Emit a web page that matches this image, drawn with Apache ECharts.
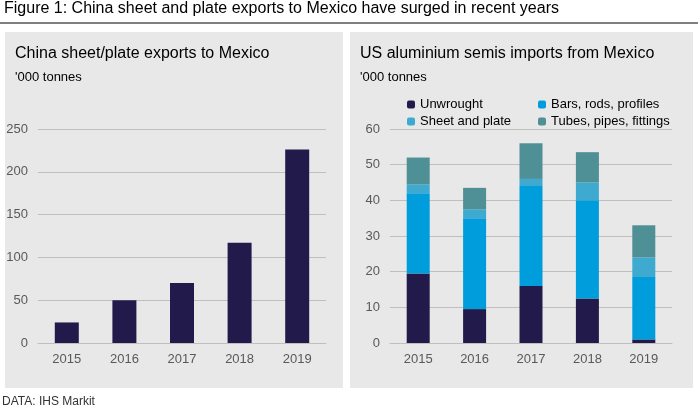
<!DOCTYPE html>
<html lang="en">
<head>
<meta charset="utf-8">
<title>China sheet and plate exports to Mexico</title>
<script src="https://cdn.jsdelivr.net/npm/echarts@6/dist/echarts.min.js"></script>
<style>
  body { margin: 0; background: #fff; }
  #main { width: 698px; height: 409px; }
</style>
</head>
<body>
<div id="main"></div>
<script type="text/javascript">
  // years shared by both panels
  let years = ['2015', '2016', '2017', '2018', '2019'];

  // left panel: China sheet/plate exports, '000 tonnes
  let chinaExports = [24, 50, 70, 117, 226];

  // right panel: US semis imports from Mexico, '000 tonnes
  let unwrought = [19.5, 9.5, 16, 12.5, 1];
  let barsRods = [22.5, 25.5, 28, 27.5, 17.5];
  let sheetPlate = [2.5, 2.5, 2, 5, 5.5];
  let tubesPipes = [7.5, 6, 10, 8.5, 9];

  let font = 'Arial, "Liberation Sans", sans-serif';
  let axisText = { color: '#595959', fontSize: 13, fontFamily: font, margin: 10 };
  let legendText = { color: '#000', fontSize: 13, fontFamily: font };

  let chart = echarts.init(document.getElementById('main'));

  function stackSeries(name, data, color) {
    return {
      name: name, type: 'bar', stack: 'us', data: data,
      xAxisIndex: 1, yAxisIndex: 1, barWidth: 23,
      itemStyle: { color: color }
    };
  }

  let option = {
    animation: false,
    graphic: [
      { type: 'text', left: 4, top: 1, style: { text: 'Figure 1: China sheet and plate exports to Mexico have surged in recent years', fontSize: 16, fill: '#000', fontFamily: font } },
      { type: 'line', shape: { x1: 0, y1: 23, x2: 698, y2: 23 }, style: { stroke: '#000', lineWidth: 1 } },
      { type: 'rect', z: -10, shape: { x: 5, y: 32, width: 338, height: 356 }, style: { fill: '#e8e8e8' } },
      { type: 'rect', z: -10, shape: { x: 350, y: 32, width: 343, height: 356 }, style: { fill: '#e8e8e8' } },
      { type: 'text', left: 15, top: 46, style: { text: 'China sheet/plate exports to Mexico', fontSize: 16, fill: '#000', fontFamily: font } },
      { type: 'text', left: 15, top: 71, style: { text: "'000 tonnes", fontSize: 13, fill: '#000', fontFamily: font } },
      { type: 'text', left: 360, top: 46, style: { text: 'US aluminium semis imports from Mexico', fontSize: 16, fill: '#000', fontFamily: font } },
      { type: 'text', left: 360, top: 71, style: { text: "'000 tonnes", fontSize: 13, fill: '#000', fontFamily: font } },
      { type: 'text', left: 2, top: 396, style: { text: 'DATA: IHS Markit', fontSize: 12, fill: '#333', fontFamily: font } }
    ],
    legend: [
      { left: 402, top: 93, orient: 'vertical', itemWidth: 8, itemHeight: 8, itemGap: 4, textStyle: legendText,
        data: ['Unwrought', 'Sheet and plate'] },
      { left: 533, top: 93, orient: 'vertical', itemWidth: 8, itemHeight: 8, itemGap: 4, textStyle: legendText,
        data: ['Bars, rods, profiles', 'Tubes, pipes, fittings'] }
    ],
    grid: [
      { left: 38, right: 372, top: 129, bottom: 66 },
      { left: 390, right: 26, top: 129, bottom: 66 }
    ],
    xAxis: [
      { type: 'category', gridIndex: 0, data: years, axisTick: { show: false }, axisLine: { lineStyle: { color: '#bfbfbf' } }, axisLabel: axisText },
      { type: 'category', gridIndex: 1, data: years, axisTick: { show: false }, axisLine: { lineStyle: { color: '#bfbfbf' } }, axisLabel: axisText }
    ],
    yAxis: [
      { type: 'value', gridIndex: 0, min: 0, max: 250, interval: 50, axisLabel: axisText, splitLine: { lineStyle: { color: '#bfbfbf' } } },
      { type: 'value', gridIndex: 1, min: 0, max: 60, interval: 10, axisLabel: axisText, splitLine: { lineStyle: { color: '#bfbfbf' } } }
    ],
    series: [
      { type: 'bar', data: chinaExports, barWidth: 24, itemStyle: { color: '#211a4a' } },
      stackSeries('Unwrought', unwrought, '#211a4a'),
      stackSeries('Bars, rods, profiles', barsRods, '#009ddc'),
      stackSeries('Sheet and plate', sheetPlate, '#3eaacf'),
      stackSeries('Tubes, pipes, fittings', tubesPipes, '#4f8f96')
    ]
  };

  chart.setOption(option);
</script>
</body>
</html>
